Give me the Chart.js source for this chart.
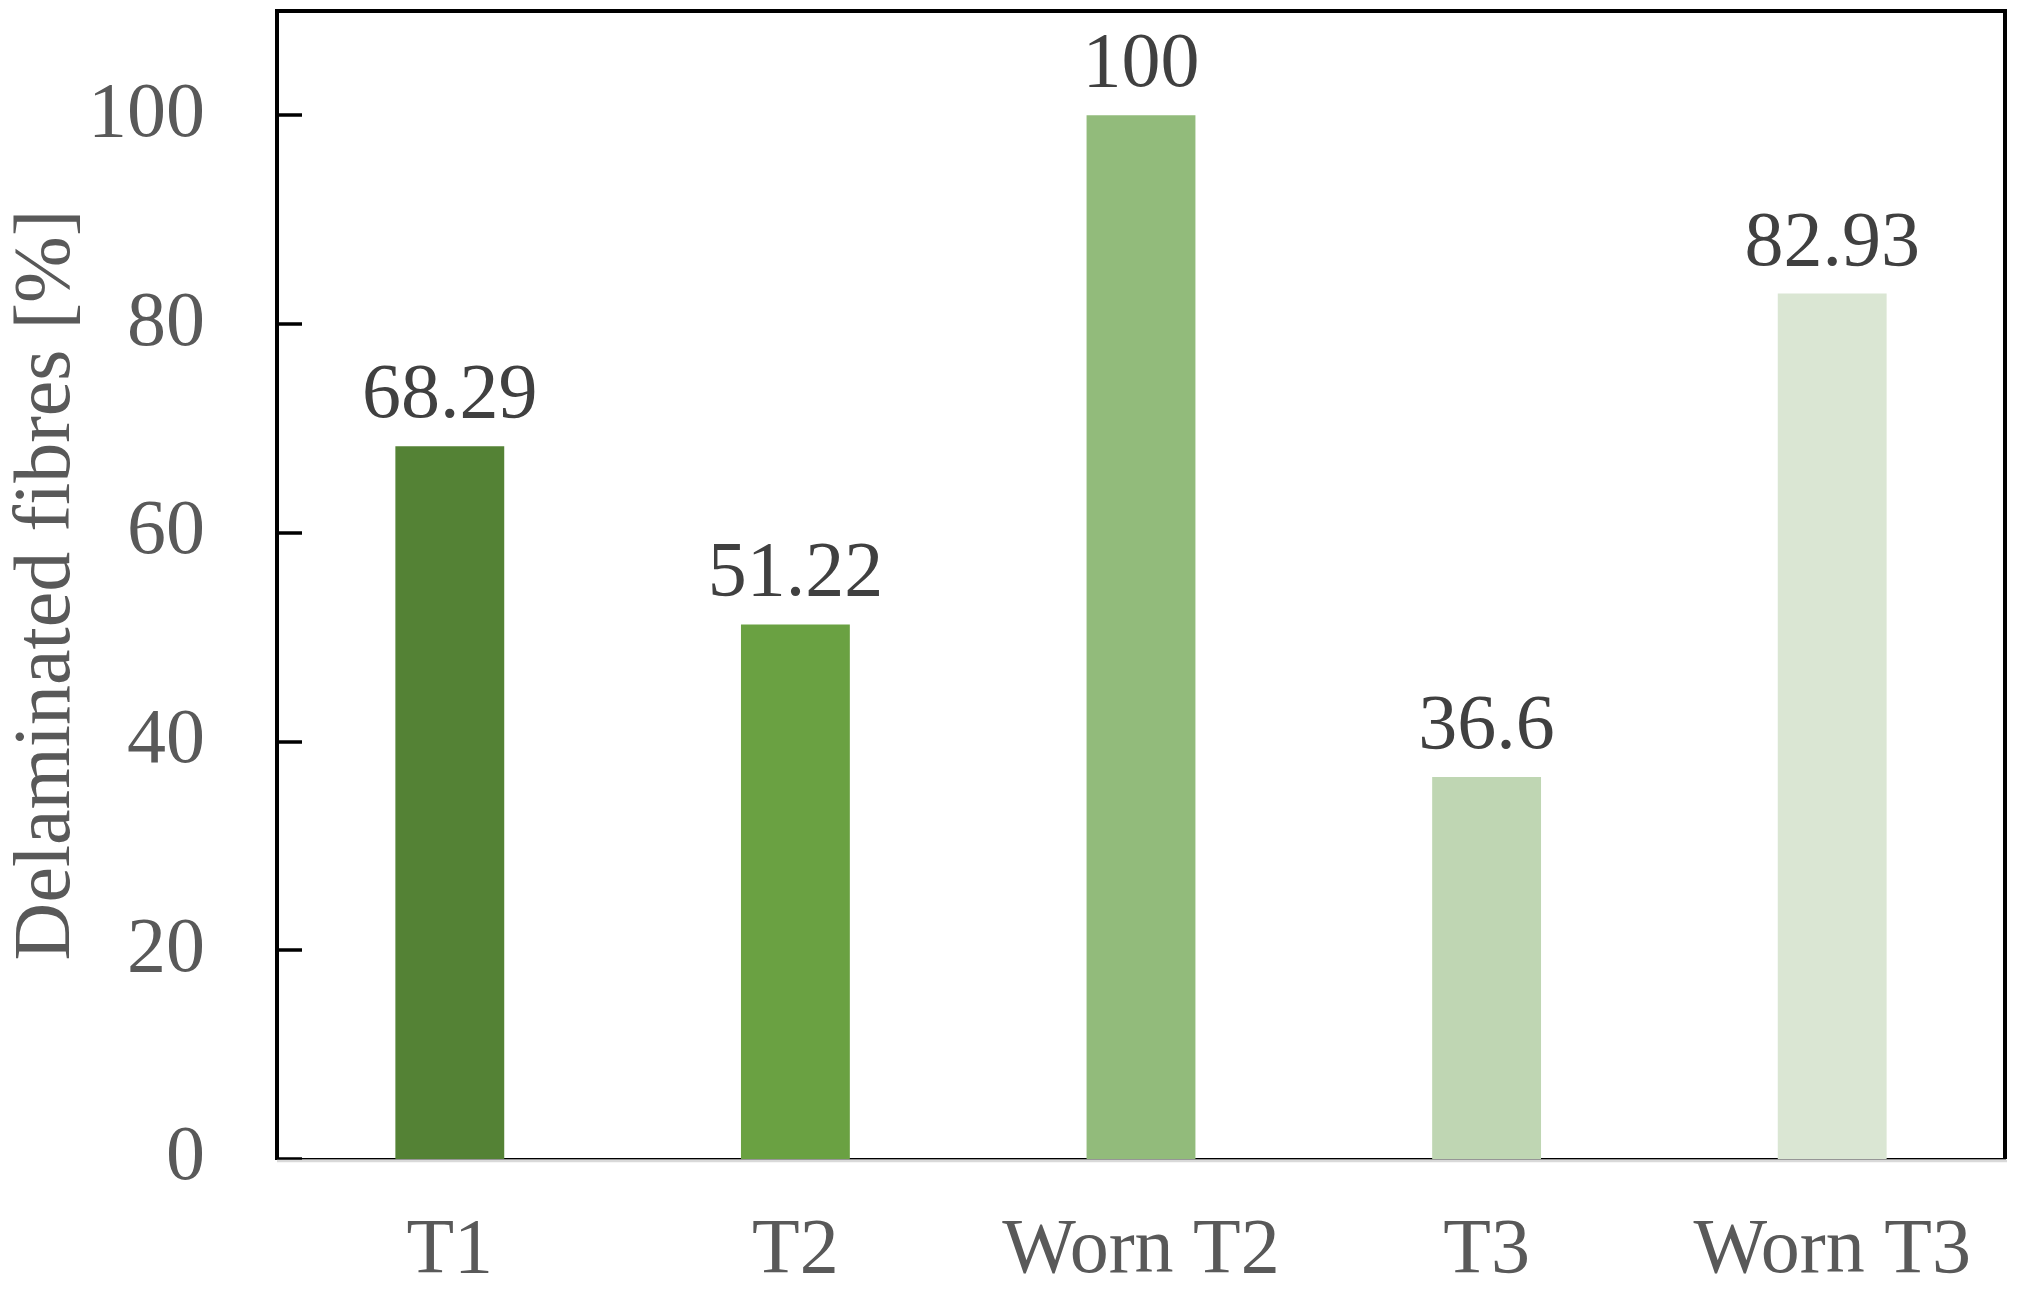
<!DOCTYPE html>
<html>
<head>
<meta charset="utf-8">
<script src="https://cdn.jsdelivr.net/npm/chart.js@4/dist/chart.umd.min.js"></script>
<style>
  html, body { margin: 0; padding: 0; background: #fff; }
  #wrap { width: 2018px; height: 1293px; }
</style>
</head>
<body>
<div id="wrap"><canvas id="chart" width="2018" height="1293"></canvas></div>
<script>
const categories = ['T1', 'T2', 'Worn T2', 'T3', 'Worn T3'];
const delaminated = [68.29, 51.22, 100, 36.6, 82.93];
const valueLabels = ['68.29', '51.22', '100', '36.6', '82.93'];
const barColors = ['#548235', '#6aa142', '#92bb7b', '#bfd6b3', '#dae6d3'];
const yTicks = [0, 20, 40, 60, 80, 100];

const FONT = '"Liberation Serif", "Times New Roman", serif';

// inside tick marks, top/right frame, value labels
const decorations = {
  id: 'decorations',
  afterDraw(chart) {
    const ctx = chart.ctx;
    const area = chart.chartArea;
    const y = chart.scales.y;
    ctx.save();
    ctx.strokeStyle = '#000';
    ctx.lineWidth = 3.5;
    yTicks.forEach(v => {
      const py = Math.round(y.getPixelForValue(v));
      ctx.beginPath();
      ctx.moveTo(area.left, py);
      ctx.lineTo(area.left + 25, py);
      ctx.stroke();
    });
    ctx.lineWidth = 4;
    ctx.beginPath();
    ctx.moveTo(area.left - 2, area.top);
    ctx.lineTo(area.right, area.top);
    ctx.lineTo(area.right, area.bottom);
    ctx.stroke();
    // light grey shadow under the baseline
    ctx.strokeStyle = '#d9d9d9';
    ctx.lineWidth = 2.5;
    ctx.beginPath();
    ctx.moveTo(area.left, area.bottom + 2);
    ctx.lineTo(area.right + 2, area.bottom + 2);
    ctx.stroke();

    // value labels
    const meta = chart.getDatasetMeta(0);
    ctx.fillStyle = '#404040';
    ctx.font = '78px ' + FONT;
    ctx.textAlign = 'center';
    ctx.textBaseline = 'alphabetic';
    meta.data.forEach((bar, i) => {
      ctx.fillText(valueLabels[i], bar.x, bar.y - 29);
    });
    ctx.restore();
  }
};

new Chart(document.getElementById('chart'), {
  type: 'bar',
  data: {
    labels: categories,
    datasets: [{
      data: delaminated,
      backgroundColor: barColors,
      borderWidth: 0,
      barPercentage: 0.315,
      categoryPercentage: 1
    }]
  },
  options: {
    responsive: false,
    animation: false,
    layout: { padding: { top: 11, right: 13, left: 0, bottom: 0 } },
    plugins: {
      legend: { display: false },
      tooltip: { enabled: false }
    },
    scales: {
      x: {
        grid: { display: false, drawTicks: false },
        border: { color: '#000', width: 1.5 },
        ticks: {
          color: '#595959',
          font: { family: FONT, size: 78 },
          padding: 46,
          maxRotation: 0
        },
        afterFit(scale) {
          scale.height = 134;
          scale.paddingLeft = 0;
          scale.paddingRight = 0;
        }
      },
      y: {
        min: 0,
        max: 110,
        grid: { display: false, drawTicks: false },
        border: { color: '#000', width: 4 },
        ticks: {
          stepSize: 20,
          color: '#595959',
          font: { family: FONT, size: 78 },
          padding: 72
        },
        afterBuildTicks(scale) {
          scale.ticks = yTicks.map(v => ({ value: v }));
        },
        title: {
          display: true,
          text: 'Delaminated fibres [%]',
          color: '#595959',
          font: { family: FONT, size: 80 },
          padding: { top: 0, bottom: 0 }
        },
        afterFit(scale) {
          scale.width = 277;
          scale.paddingTop = 0;
          scale.paddingBottom = 0;
        }
      }
    }
  },
  plugins: [decorations]
});
</script>
</body>
</html>
